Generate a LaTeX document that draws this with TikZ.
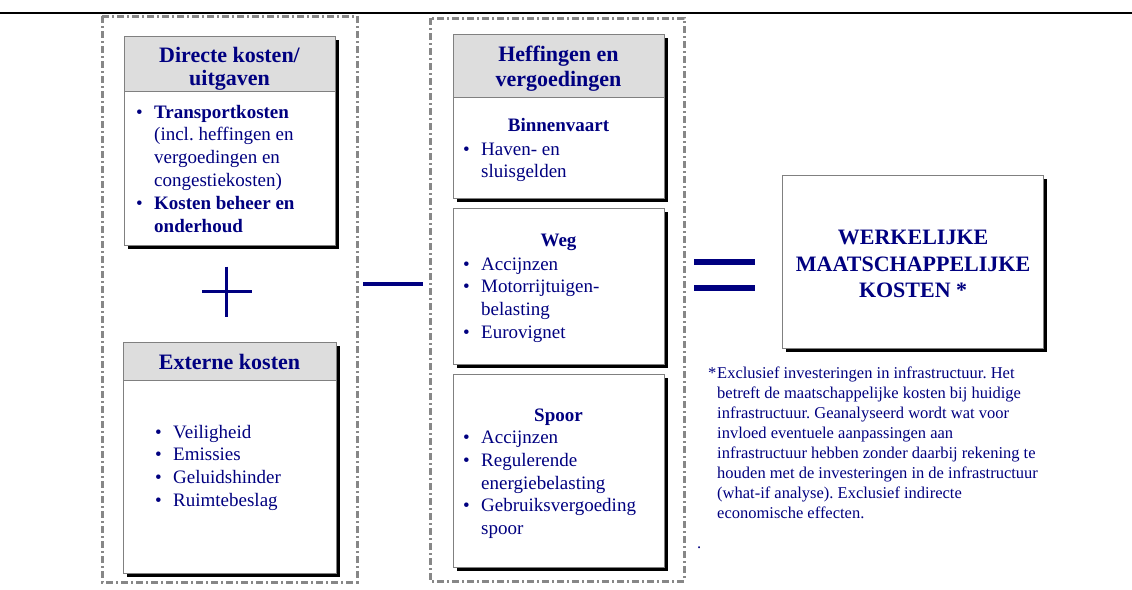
\documentclass[tikz,border=0pt]{standalone}
\usepackage{fontspec}
\setmainfont{Liberation Serif}
\usepackage{tikz}
\usetikzlibrary{shadows}
\usepackage{xcolor}
\definecolor{navy}{RGB}{0,0,128}
\definecolor{boxgray}{RGB}{128,128,128}
\definecolor{hdgray}{RGB}{221,221,221}
\definecolor{dashgray}{RGB}{135,135,135}
\newcommand{\kbul}{\makebox[18pt][l]{\textbullet}}
\newcommand{\kind}{\hspace*{18pt}}
\frenchspacing

\begin{document}
\begin{tikzpicture}[x=1pt,y=1pt,line cap=butt,
  kbox/.style={draw=boxgray,line width=1.2pt,fill=white,inner sep=0pt,anchor=north west,
    general shadow={fill=black,shadow xshift=3pt,shadow yshift=-3pt}},
  khead/.style={draw=boxgray,line width=1.2pt,fill=hdgray,inner sep=0pt,anchor=north},
  htitle/.style={text=navy,font=\fontsize{22}{23.5}\selectfont\bfseries,align=center,anchor=base,inner sep=0pt},
  stitle/.style={text=navy,font=\fontsize{19}{22.7}\selectfont\bfseries,anchor=base,inner sep=0pt},
  blist/.style={text=navy,font=\fontsize{19}{22.8}\selectfont,align=left,anchor=base west,inner sep=0pt},
  kader/.style={draw=dashgray,line width=3pt,dash pattern=on 7pt off 3pt on 2pt off 3pt},
  teken/.style={draw=navy}]
\useasboundingbox (0,0) rectangle (1132,-589);
\draw[line width=2pt] (0,-13) -- (1132,-13);
\draw[kader] (102,-16) rectangle (357,-582);
\draw[kader] (430,-18) rectangle (684,-581);

\node[kbox,minimum width=211pt,minimum height=209pt] (dk) at (124,-36) {};
\node[khead,minimum width=211pt,minimum height=55pt] (dkh) at (dk.north) {};
\node[htitle] (dkt) at (229.5,-85.5) {Directe kosten/\\uitgaven};
\node[blist] (dkl) at (136,-232) {\kbul\textbf{Transportkosten}\\
  \kind(incl. heffingen en\\
  \kind vergoedingen en\\
  \kind congestiekosten)\\
  \kbul\textbf{Kosten beheer en}\\
  \kind\textbf{onderhoud}};

\node[kbox,minimum width=213pt,minimum height=231pt] (ek) at (123,-342) {};
\node[khead,minimum width=213pt,minimum height=38pt] (ekh) at (ek.north) {};
\node[htitle] (ekt) at (229.5,-369) {Externe kosten};
\node[blist] (ekl) at (155,-506.4) {\kbul Veiligheid\\
  \kbul Emissies\\
  \kbul Geluidshinder\\
  \kbul Ruimtebeslag};

\node[kbox,minimum width=211pt,minimum height=164pt] (hv) at (453,-34) {};
\node[khead,minimum width=211pt,minimum height=63pt] (hvh) at (hv.north) {};
\node[htitle,font=\fontsize{22}{24.3}\selectfont\bfseries] (hvt) at (558.5,-86) {Heffingen en\\vergoedingen};
\node[stitle] (bvt) at (558.5,-131.7) {Binnenvaart};
\node[blist,font=\fontsize{19}{21.5}\selectfont] (bvl) at (463,-177) {\kbul Haven- en\\
  \kind sluisgelden};

\node[kbox,minimum width=211pt,minimum height=156pt] (weg) at (453,-208) {};
\node[stitle] (wegt) at (558.5,-246.7) {Weg};
\node[blist] (wegl) at (463,-338.4) {\kbul Accijnzen\\
  \kbul Motorrijtuigen-\\
  \kind belasting\\
  \kbul Eurovignet};

\node[kbox,minimum width=211pt,minimum height=193pt] (sp) at (453,-374) {};
\node[stitle] (spt) at (558.5,-421.7) {Spoor};
\node[blist] (spl) at (463,-534.7) {\kbul Accijnzen\\
  \kbul Regulerende\\
  \kind energiebelasting\\
  \kbul Gebruiksvergoeding\\
  \kind spoor};

\node[kbox,minimum width=261pt,minimum height=173pt] (wmk) at (782,-175) {};
\node[text=navy,font=\fontsize{22}{26.7}\selectfont\bfseries,align=center,inner sep=0pt] (wmkt) at ([yshift=-2pt]wmk.center) {WERKELIJKE\\MAATSCHAPPELIJKE\\KOSTEN *};

\node[blist,font=\fontsize{16.5}{20}\selectfont] (stt) at (708,-378) {*};
\node[blist,font=\fontsize{16.5}{20}\selectfont] (vn) at (717,-518) {Exclusief investeringen in infrastructuur. Het\\
  betreft de maatschappelijke kosten bij huidige\\
  infrastructuur. Geanalyseerd wordt wat voor\\
  invloed eventuele aanpassingen aan\\
  infrastructuur hebben zonder daarbij rekening te\\
  houden met de investeringen in de infrastructuur\\
  (what-if analyse). Exclusief indirecte\\
  economische effecten.};
\node[blist,font=\fontsize{16.5}{20}\selectfont] (pt) at (697,-548) {.};

\draw[teken,line width=3.5pt] (202,-291.7) -- (252,-291.7);
\draw[teken,line width=3.5pt] (226.7,-266.7) -- (226.7,-316.7);
\draw[teken,line width=4.5pt] (363,-284) -- (423,-284);
\draw[teken,line width=5.5pt] (694,-262) -- (755,-262);
\draw[teken,line width=5.5pt] (694,-288) -- (755,-288);
\end{tikzpicture}
\end{document}
